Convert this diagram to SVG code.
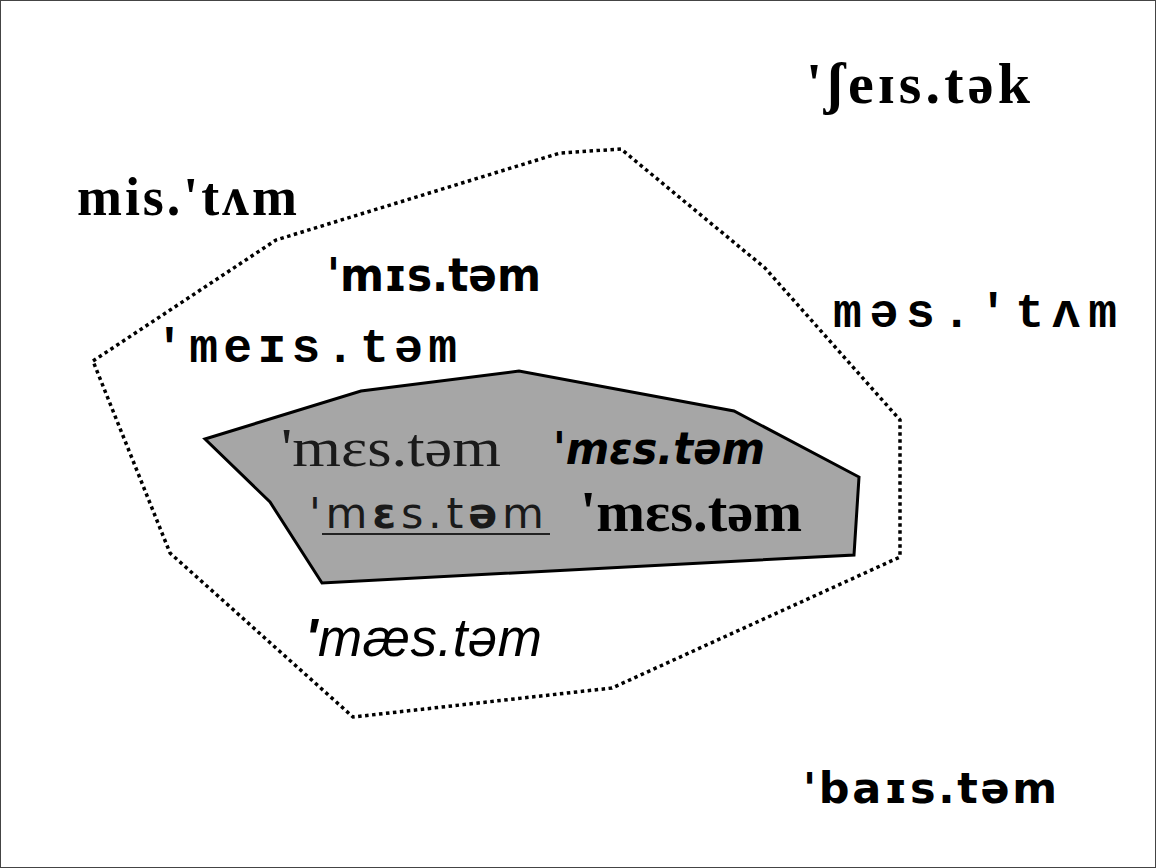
<svg xmlns="http://www.w3.org/2000/svg" width="1156" height="868" viewBox="0 0 1156 868">
<style>
.serifb{font-family:"Liberation Serif","DejaVu Serif",serif;font-weight:bold;fill:#000}
.serif{font-family:"Liberation Serif","DejaVu Serif",serif;fill:#1a1a1a}
.sansb{font-family:"DejaVu Sans","Liberation Sans",sans-serif;font-weight:bold;fill:#000}
.sans{font-family:"DejaVu Sans","Liberation Sans",sans-serif;fill:#1a1a1a}
.monob{font-family:"Liberation Mono","DejaVu Sans Mono",monospace;font-weight:bold;fill:#000}
.arial{font-family:"Liberation Sans","DejaVu Sans",sans-serif;fill:#000}
.dotted{fill:none;stroke:#000;stroke-width:3.5;stroke-dasharray:3.5 3.5}
.core{fill:#a6a6a6;stroke:#000;stroke-width:3;stroke-linejoin:miter}
</style>
<rect x="0" y="0" width="1156" height="868" fill="#fff"/>
<rect x="0.5" y="0.5" width="1155" height="867" fill="none" stroke="#444" stroke-width="1"/>
<g id="regions">
<polygon id="outer-region" class="dotted" points="93,361 276,240 560,153 621,149 765,268 900,420 900,557 612,688 353,717 170,553"/>
<polygon id="core-region" class="core" points="205,439 361,391 519,371 734,411 859,477 854,555 322,583 270,502"/>
</g>
<g id="connectors"></g>
<g id="n-feistak"><text class="serifb" x="806" y="103" font-size="58" textLength="224" lengthAdjust="spacing">'ʃeɪs.tək</text></g>
<g id="n-mistam"><text class="serifb" x="77" y="215" font-size="54" textLength="220" lengthAdjust="spacing">mis.'tʌm</text></g>
<g id="n-mistem-sans"><text class="sansb" x="327" y="291" font-size="46" textLength="214" lengthAdjust="spacingAndGlyphs">'mɪs.təm</text></g>
<g id="n-meistem"><text class="monob" x="155" y="362" font-size="48" textLength="302" lengthAdjust="spacing">'meɪs.təm</text></g>
<g id="n-mestam-mono"><text class="monob" x="833" y="327" font-size="48" textLength="284" lengthAdjust="spacing">məs.'tʌm</text></g>
<g id="n-mestem-serif"><text class="serif" x="281" y="466" font-size="54" textLength="220" lengthAdjust="spacingAndGlyphs">'mɛs.təm</text></g>
<g id="n-mestem-bolditalic"><text class="sansb" font-style="italic" x="553" y="464" font-size="45" textLength="212" lengthAdjust="spacingAndGlyphs">'mɛs.təm</text></g>
<g id="n-mestem-underlined"><text class="sans" x="309" y="528" font-size="43" textLength="235" lengthAdjust="spacing">'m<tspan font-weight="bold">ɛ</tspan>s.t<tspan font-weight="bold">ə</tspan>m</text><line x1="322" y1="534" x2="550" y2="534" stroke="#222" stroke-width="2"/></g>
<g id="n-mestem-boldserif"><text class="serifb" x="580" y="531" font-size="56" textLength="222" lengthAdjust="spacingAndGlyphs">'mɛs.təm</text></g>
<g id="n-maestem"><text class="arial" font-style="italic" x="305" y="656" font-size="53" textLength="237" lengthAdjust="spacing"><tspan font-weight="bold">'</tspan>mæs.təm</text></g>
<g id="n-baistem"><text class="sansb" x="803" y="803" font-size="43" textLength="254" lengthAdjust="spacing">'baɪs.təm</text></g>
</svg>
